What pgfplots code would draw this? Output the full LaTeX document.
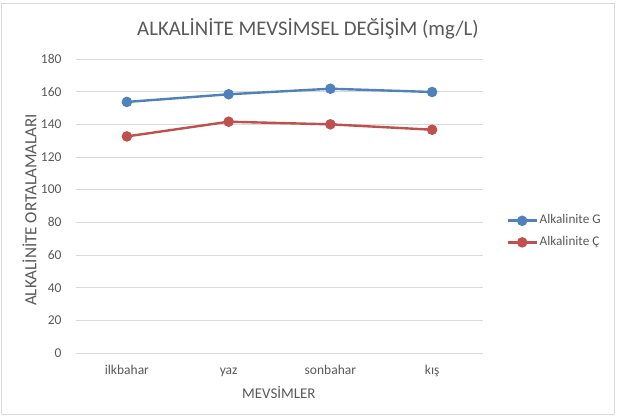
\documentclass[border=0pt]{standalone}
\usepackage{fontspec}
\setmainfont{Carlito}
\usepackage{pgfplots}
\pgfplotsset{compat=1.18}
\definecolor{cblue}{HTML}{4F81BD}
\definecolor{cred}{HTML}{C0504D}
\definecolor{ctext}{HTML}{595959}
\definecolor{cgrid}{HTML}{D9D9D9}
\begin{document}
\begin{tikzpicture}[x=1pt,y=1pt]
\useasboundingbox (0,0) rectangle (617,417);
\fill[white] (0,0) rectangle (617,417);
\draw[cgrid,line width=0.8pt] (1.5,3) rectangle (614.5,414);
\node[text=ctext,font=\fontsize{20.8}{24}\selectfont,anchor=base,inner sep=0pt] at (308,381.3) {ALKALİNİTE MEVSİMSEL DEĞİŞİM (mg/L)};
\node[text=ctext,font=\fontsize{17}{20}\selectfont,rotate=90,inner sep=0pt] at (29.5,207) {ALKALİNİTE ORTALAMALARI};
\node[text=ctext,font=\fontsize{14.9}{18}\selectfont,anchor=base,inner sep=0pt] at (278.8,18.7) {MEVSİMLER};
\begin{axis}[
  at={(76pt,64pt)}, anchor=south west,
  scale only axis, width=407pt, height=294pt,
  xmin=-0.5, xmax=3.5, ymin=0, ymax=180,
  ytick={0,20,...,180},
  xtick={0,1,2,3},
  xticklabels={ilkbahar,yaz,sonbahar,kış},
  axis line style={draw=none},
  major tick length=0pt,
  ymajorgrids, grid style={cgrid,line width=0.8pt},
  tick label style={text=ctext,font=\fontsize{13.5}{16}\selectfont},
  /pgf/number format/assume math mode=true,
  yticklabel style={xshift=-11pt},
  xticklabel style={anchor=base,yshift=-21pt},
  legend style={at={(1.0565,0.413)},anchor=west,draw=none,fill=none,
    font=\fontsize{13.2}{15}\selectfont,text=ctext,row sep=9.5pt,inner sep=0pt,
    nodes={inner sep=1.5pt,text height=1.6ex,text depth=0.3ex},
    /tikz/every even column/.append style={column sep=0pt}},
  legend cell align=left,
  legend image code/.code={
    \draw[#1,line width=3pt] (0pt,0pt) -- (29pt,0pt);
    \fill[#1] (14.5pt,0pt) circle (4pt);
  },
]
\addplot[cblue,line width=2.4pt,mark=*,mark size=4pt,mark options={fill=cblue,draw=cblue}]
  coordinates {(0,153.7) (1,158.4) (2,161.8) (3,159.8)};
\addlegendentry{Alkalinite G}
\addplot[cred,line width=2.4pt,mark=*,mark size=4pt,mark options={fill=cred,draw=cred}]
  coordinates {(0,132.6) (1,141.6) (2,140.0) (3,136.7)};
\addlegendentry{Alkalinite Ç}
\end{axis}
\end{tikzpicture}
\end{document}
